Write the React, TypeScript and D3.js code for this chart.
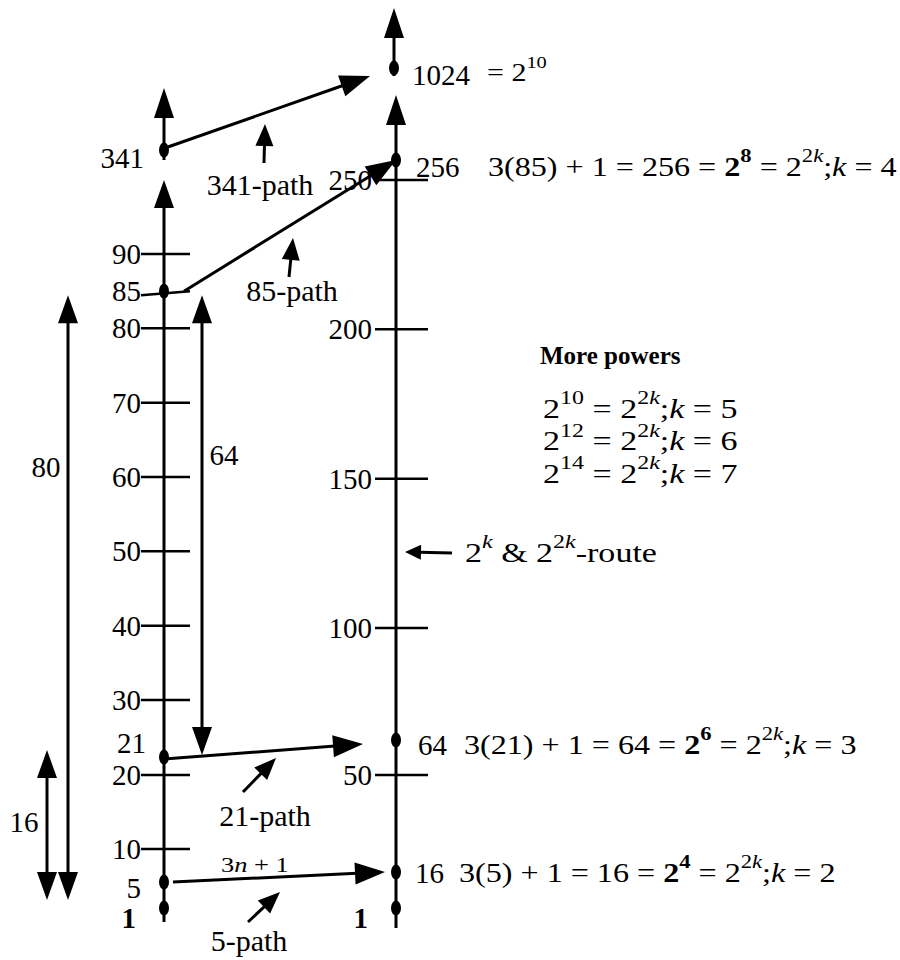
import * as d3 from 'd3';

// axis values
const leftTicks = [10, 20, 30, 40, 50, 60, 70, 80, 85, 90];
const rightTicks = [50, 100, 150, 200, 250];
const leftNodes = [1, 5, 21, 85, 341];
const rightNodes = [1, 16, 64, 256, 1024];

// 3n+1 jumps from the left column to the right column
const pathFrom = [5, 21, 85, 341];
const pathTo = [16, 64, 256, 1024];
const pathLabels = ['5-path', '21-path', '85-path', '341-path'];

// equations beside the powers of two
const eqN = [5, 21, 85];
const eqM = [16, 64, 256];
const eqExp = [4, 6, 8];
const eqK = [2, 3, 4];

const moreExp = [10, 12, 14];
const moreK = [5, 6, 7];

// distance arrows on the left
const spanLabels = ['80', '16', '64'];
const spanLow = [5, 5, 21];
const spanHigh = [85, 21, 85];

const W = 900;
const H = 960;
const XL = 164;
const XR = 396;
const FONT = 'Liberation Serif, Times New Roman, serif';

// hand-drawn broken axes: piecewise linear, squeezed above the tick range
const yL = d3.scaleLinear().domain([1, 5, 10, 20, 21, 30, 90, 341]).range([908, 882, 849, 775, 757, 700, 254, 150]);
const yR = d3.scaleLinear().domain([1, 16, 50, 64, 100, 250, 256, 1024]).range([908, 872, 775, 740, 628, 180, 160, 68]);

function Arrow({ x1, y1, x2, y2, len = 28, w = 20, both = false, sw = 3 }: any) {
  const dx = x2 - x1, dy = y2 - y1;
  const d = Math.hypot(dx, dy);
  const ux = dx / d, uy = dy / d;
  const nx = -uy, ny = ux;
  const tri = (tx: number, ty: number, sx: number, sy: number) => {
    const bx = tx - sx * len, by = ty - sy * len;
    return `${tx},${ty} ${bx + nx * w / 2},${by + ny * w / 2} ${bx - nx * w / 2},${by - ny * w / 2}`;
  };
  const ex = x2 - ux * (len - 2), ey = y2 - uy * (len - 2);
  const sx0 = both ? x1 + ux * (len - 2) : x1, sy0 = both ? y1 + uy * (len - 2) : y1;
  return (
    <g>
      <line x1={sx0} y1={sy0} x2={ex} y2={ey} stroke="#000" strokeWidth={sw} />
      <polygon points={tri(x2, y2, ux, uy)} fill="#000" />
      {both && <polygon points={tri(x1, y1, -ux, -uy)} fill="#000" />}
    </g>
  );
}

const EQ = 27;
const SUP = 19;
const UP = 11;

// wide, math-set text: drawn at the origin and stretched sideways
function Wide({ x, y, sx, size = EQ, children }: any) {
  return (
    <text transform={`translate(${x},${y}) scale(${sx},1)`} fontSize={size} fontFamily={FONT}
      dominantBaseline="central" style={{ whiteSpace: 'pre' }}>
      {children}
    </text>
  );
}

function TwoK() {
  return (
    <>
      <tspan dy={-UP} fontSize={SUP}>2</tspan>
      <tspan fontSize={SUP} fontStyle="italic">k</tspan>
      <tspan dy={UP}>;</tspan>
      <tspan fontStyle="italic">k</tspan>
    </>
  );
}

function Eq({ x, y, n, m, exp, k }: any) {
  return (
    <Wide x={x} y={y} sx={1.19}>
      <tspan>{`3(${n}) + 1 = ${m} = `}</tspan>
      <tspan fontWeight="bold">2</tspan>
      <tspan fontWeight="bold" fontSize={SUP} dy={-UP}>{exp}</tspan>
      <tspan dy={UP}>{' = 2'}</tspan>
      <TwoK />
      <tspan>{` = ${k}`}</tspan>
    </Wide>
  );
}

function Power({ x, y, exp, k }: any) {
  return (
    <Wide x={x} y={y} sx={1.26}>
      <tspan>2</tspan>
      <tspan fontSize={SUP} dy={-UP}>{exp}</tspan>
      <tspan dy={UP}>{' = 2'}</tspan>
      <TwoK />
      <tspan>{` = ${k}`}</tspan>
    </Wide>
  );
}

export default function App() {
  const lab = { fontFamily: FONT, fontSize: 29, dominantBaseline: 'central' } as any;
  const plab = { ...lab, fontSize: 30 };
  // arrow tip placement relative to the target dot, per path
  const tipGap = [11, 33, 0, 26];
  const tipDy = [0, 4, 0, 8];
  const startDx = [9, 0, 20, 1];

  return (
    <svg width={W} height={H} style={{ position: 'absolute', left: 0, top: 0, background: '#fff' }}>
      {/* left column */}
      <Arrow x1={XL} y1={922} x2={XL} y2={180} len={28} w={20} />
      <Arrow x1={XL} y1={yL(341) + 10} x2={XL} y2={88} len={30} w={20} />
      {leftTicks.map((t) => (
        <g key={`lt${t}`}>
          <line x1={141} x2={190} y1={yL(t) + (t === 85 ? 4 : 0)} y2={yL(t)} stroke="#000" strokeWidth={2.5} />
          <text {...lab} x={141} y={yL(t)} textAnchor="end">{t}</text>
        </g>
      ))}

      {/* right column */}
      <Arrow x1={XR} y1={928} x2={XR} y2={95} len={30} w={20} />
      <Arrow x1={XR - 2} y1={yR(1024) + 8} x2={XR - 2} y2={8} len={30} w={20} />
      {rightTicks.map((t) => (
        <g key={`rt${t}`}>
          <line x1={375} x2={428} y1={yR(t)} y2={yR(t)} stroke="#000" strokeWidth={2.5} />
          <text {...lab} x={372} y={yR(t)} textAnchor="end">{t}</text>
        </g>
      ))}

      {/* nodes */}
      {leftNodes.map((v) => (
        <ellipse key={`ln${v}`} cx={XL} cy={yL(v)} rx={5} ry={7.5} fill="#000" />
      ))}
      {rightNodes.map((v) => (
        <ellipse key={`rn${v}`} cx={v === 1024 ? XR - 2 : XR} cy={yR(v)} rx={5} ry={7.5} fill="#000" />
      ))}
      <text {...lab} x={144} y={yL(341) + 8} textAnchor="end">341</text>
      <text {...lab} x={146} y={yL(21) - 14} textAnchor="end">21</text>
      <text {...lab} x={141} y={yL(5) + 6} textAnchor="end">5</text>
      <text {...lab} x={136} y={yL(1) + 10} textAnchor="end" fontWeight="bold">1</text>
      <text {...lab} x={368} y={yR(1) + 10} textAnchor="end" fontWeight="bold">1</text>
      <text {...lab} x={412} y={yR(1024) + 7}>1024</text>
      <Wide x={487} y={yR(1024) + 4} sx={1.2} size={25}>
        {'= 2'}<tspan fontSize={17} dy={-10}>10</tspan>
      </Wide>
      <text {...lab} x={416} y={yR(256) + 7}>256</text>
      <text {...lab} x={418} y={yR(64) + 5}>64</text>
      <text {...lab} x={415} y={yR(16) + 1}>16</text>

      {eqN.map((n, i) => (
        <Eq key={`eq${n}`} x={[459, 464, 488][i]} y={yR(eqM[i]) + [1, 5, 7][i]} n={n} m={eqM[i]} exp={eqExp[i]} k={eqK[i]} />
      ))}

      {/* 3n+1 paths */}
      {pathFrom.map((f, i) => {
        const x1 = XL + startDx[i];
        const y1 = yL(f) + (i === 3 ? -2 : i === 1 ? 2 : 0);
        const x2 = XR - tipGap[i];
        const y2 = yR(pathTo[i]) + tipDy[i];
        return <Arrow key={`p${f}`} x1={x1} y1={y1} x2={x2} y2={y2} len={30} w={22} />;
      })}
      <Wide x={221} y={864} sx={1.2} size={22}>
        3<tspan fontStyle="italic">n</tspan>{' + 1'}
      </Wide>

      {/* path labels with pointer arrows */}
      <Arrow x1={248} y1={922} x2={280} y2={892} len={22} w={18} />
      <text {...plab} x={249} y={940} textAnchor="middle">{pathLabels[0]}</text>
      <Arrow x1={243} y1={792} x2={276} y2={758} len={22} w={18} />
      <text {...plab} x={265} y={815} textAnchor="middle">{pathLabels[1]}</text>
      <Arrow x1={289} y1={277} x2={293} y2={238} len={22} w={18} />
      <text {...plab} x={292} y={290} textAnchor="middle">{pathLabels[2]}</text>
      <Arrow x1={264} y1={163} x2={265} y2={124} len={22} w={18} />
      <text {...plab} x={260} y={184} textAnchor="middle">{pathLabels[3]}</text>

      {/* distance arrows */}
      {spanLabels.map((l, i) => {
        const x = [68, 47, 202][i];
        const top = i === 1 ? yL(spanHigh[i]) - 7 : yL(spanHigh[i]) + 4;
        const bot = i === 2 ? yL(spanLow[i]) - 2 : yL(spanLow[i]) + 18;
        const lx = [46, 24, 224][i];
        const ly = [467, 822, 455][i];
        return (
          <g key={`s${l}${i}`}>
            <Arrow x1={x} y1={bot} x2={x} y2={top} len={28} w={20} both />
            <text {...lab} x={lx} y={ly} textAnchor="middle">{l}</text>
          </g>
        );
      })}

      {/* route pointer */}
      <Arrow x1={452} y1={553} x2={405} y2={552} len={16} w={15} />
      <Wide x={465} y={553} sx={1.26}>
        2<tspan fontSize={SUP} fontStyle="italic" dy={-UP}>k</tspan>
        <tspan dy={UP}>{' & 2'}</tspan>
        <tspan fontSize={SUP} dy={-UP}>2</tspan>
        <tspan fontSize={SUP} fontStyle="italic">k</tspan>
        <tspan dy={UP}>-route</tspan>
      </Wide>

      {/* more powers box */}
      <text x={540} y={355} fontFamily={FONT} fontSize={25} fontWeight="bold" dominantBaseline="central">More powers</text>
      {moreExp.map((e, i) => (
        <Power key={`mp${e}`} x={543} y={409 + i * 32.5} exp={e} k={moreK[i]} />
      ))}
    </svg>
  );
}
